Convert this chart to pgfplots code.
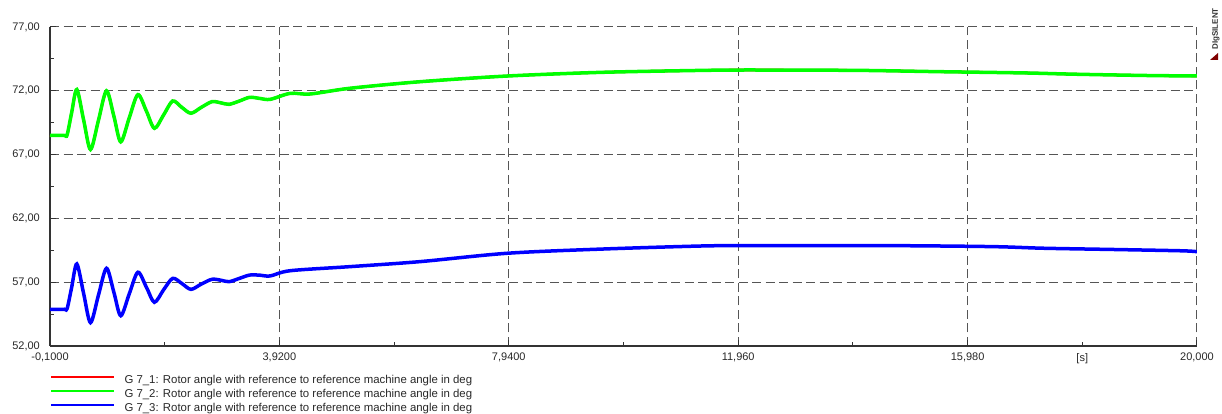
\documentclass[border=0pt]{standalone}
\usepackage{pgfplots}
\pgfplotsset{compat=1.18}
\usepackage{pgfplotstable}
\usepackage{fontspec}
\setmainfont{Liberation Sans}
\definecolor{gridgray}{RGB}{85,85,85}
\definecolor{txt}{RGB}{40,40,40}
\definecolor{sgreen}{RGB}{0,255,0}
\definecolor{sblue}{RGB}{0,0,255}
\definecolor{sred}{RGB}{255,0,0}

\pgfplotstableread{
t v
-0.10 68.50
0.15 68.50
0.20 68.55
0.28 70.30
0.37 72.10
0.49 69.70
0.61 67.40
0.75 69.70
0.89 72.00
1.02 70.00
1.14 68.00
1.29 69.90
1.44 71.70
1.59 70.40
1.73 69.06
1.89 70.10
2.05 71.20
2.21 70.70
2.37 70.24
2.55 70.70
2.74 71.15
2.90 71.05
3.04 70.94
3.22 71.20
3.40 71.49
3.58 71.40
3.76 71.33
4.11 71.80
4.46 71.75
5.16 72.20
6.38 72.71
7.92 73.16
9.59 73.45
11.34 73.60
12.17 73.63
14.06 73.60
15.46 73.50
16.97 73.40
17.86 73.30
19.10 73.20
20.00 73.16
}\greendata

\pgfplotstableread{
t v
-0.10 54.88
0.15 54.88
0.20 54.93
0.28 56.60
0.37 58.43
0.49 56.10
0.61 53.83
0.75 56.00
0.89 58.09
1.02 56.20
1.14 54.37
1.29 56.10
1.44 57.78
1.59 56.60
1.73 55.43
1.89 56.40
2.05 57.30
2.21 56.90
2.37 56.44
2.55 56.85
2.74 57.23
2.90 57.15
3.04 57.04
3.22 57.30
3.40 57.56
3.58 57.55
3.76 57.49
4.11 57.90
5.16 58.22
6.38 58.61
7.92 59.27
9.59 59.60
11.34 59.84
12.17 59.86
14.45 59.87
16.39 59.79
17.32 59.66
18.58 59.56
19.74 59.46
20.00 59.39
}\bluedata

\begin{document}
\begin{tikzpicture}[x=1pt,y=1pt]
\useasboundingbox (0,0) rectangle (1222,414);
\begin{axis}[
  at={(50pt,68pt)}, anchor=south west,
  scale only axis, width=1147pt, height=319pt,
  xmin=-0.1, xmax=20, ymin=52, ymax=77,
  axis x line=bottom, axis y line=left,
  axis line style={-, line width=1.2pt, color=black!80},
  xtick={-0.1,3.92,7.94,11.96,15.98,20},
  xticklabels={{-0,1000},{3,9200},{7,9400},{11,960},{15,980},{20,000}},
  minor xtick={1.91,5.93,9.95,13.97},
  extra x ticks={17.99}, extra x tick labels={{[s]}},
  extra x tick style={grid=none, major tick length=4pt},
  ytick={52,57,62,67,72,77},
  yticklabels={{52,00},{57,00},{62,00},{67,00},{72,00},{77,00}},
  minor ytick={54.5,59.5,64.5,69.5,74.5},
  grid=major,
  major grid style={gridgray, line width=1pt, dash pattern=on 9pt off 4.5pt},
  tick style={color=black!80, line width=1pt},
  tick align=inside,
  major tick length=6pt, minor tick length=4pt,
  tick label style={font=\fontsize{11}{12}\selectfont, text=txt, inner sep=0pt},
  yticklabel style={anchor=east, xshift=-10pt},
  xticklabel style={anchor=north, yshift=-7pt},
  legend style={at={(0,-0.092)}, anchor=north west, draw=none, fill=none,
    inner sep=0pt, outer sep=0pt, row sep=3pt,
    font=\fontsize{11.4}{12}\selectfont, text=txt,
    nodes={inner sep=0pt, text height=8.5pt, text depth=2.5pt},
    /tikz/column 1/.style={column sep=9pt}},
  legend cell align=left,
  legend image code/.code={\draw[#1, line width=2.5pt] (0pt,4pt) -- (63pt,4pt);},
]
\addplot[sred, line width=2.6pt, smooth, tension=0.5] table[x=t,y=v] {\greendata};
\addlegendentry{G 7\_1: Rotor angle with reference to reference machine angle in deg}
\addplot[sgreen, line width=3.5pt, smooth, tension=0.5] table[x=t,y=v] {\greendata};
\addlegendentry{G 7\_2: Rotor angle with reference to reference machine angle in deg}
\addplot[sblue, line width=3.5pt, smooth, tension=0.5] table[x=t,y=v] {\bluedata};
\addlegendentry{G 7\_3: Rotor angle with reference to reference machine angle in deg}
\end{axis}
\node[rotate=90, font=\fontsize{8}{9}\selectfont\bfseries, text=black!80, inner sep=0pt] at (1216,385) {DIgSILENT};
\fill[red!50!black] (1218,361) -- (1218,354) -- (1210,354) -- cycle;
\end{tikzpicture}
\end{document}
